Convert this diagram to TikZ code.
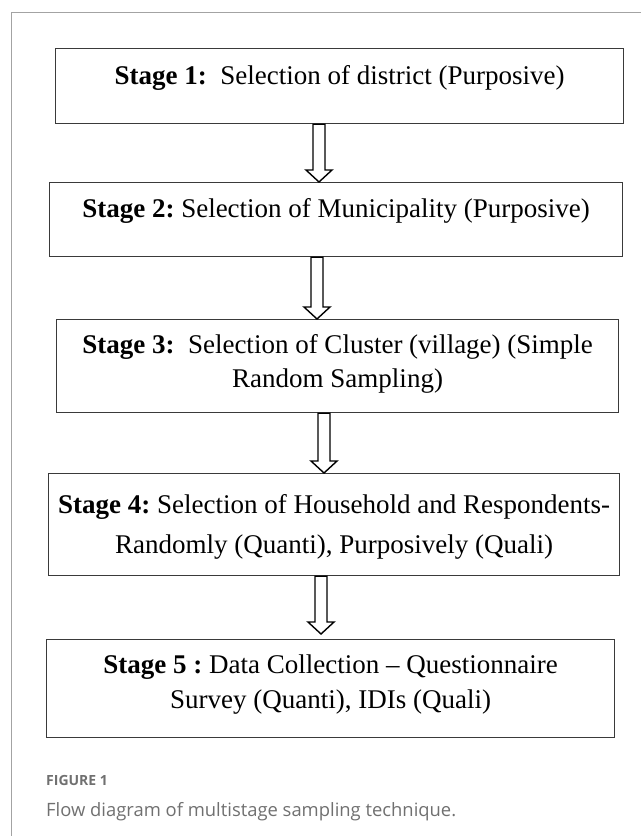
\documentclass[tikz,border=0pt]{standalone}
\usepackage{fontspec}
\setmainfont{Liberation Serif}
\newfontfamily\capfont{Open Sans}
\usepackage{tikz}
\usepackage{xcolor}
\usetikzlibrary{calc}
\definecolor{framegray}{HTML}{A3A3A3}
\definecolor{boxgray}{HTML}{3A3A3A}
\definecolor{capgray}{HTML}{707070}
\newcommand{\stagelines}[1]{\begin{tabular}[t]{@{}c@{}}#1\end{tabular}}
\frenchspacing

\begin{document}
\begin{tikzpicture}[x=1pt,y=-1pt,
    stagebox/.style={draw=boxgray, line width=1.2pt, anchor=north west, inner sep=0pt, font=\fontsize{27}{34}\selectfont},
    blockarrow/.style={draw=black, line width=1.4pt, fill=white, line join=miter},
    captitle/.style={anchor=base west, inner sep=0pt, text=capgray, font=\capfont\bfseries\fontsize{14}{16}\selectfont},
    captext/.style={anchor=base west, inner sep=0pt, text=capgray, font=\capfont\fontsize{18.4}{22}\selectfont}]
            \useasboundingbox (0,0) rectangle (641,836);
            \draw[framegray, line width=1pt] (641,12) -- (11,12) -- (11,836);
            \node[stagebox, minimum width=568pt, text height=35.5pt, text depth=39.5pt] (s1) at (55,48)
                {\stagelines{\textbf{Stage 1:}\ \ Selection of district (Purposive)}};
            \node[stagebox, minimum width=573pt, text height=35pt, text depth=39pt] (s2) at (49,182)
                {\stagelines{\textbf{Stage 2:} Selection of Municipality (Purposive)}};
            \node[stagebox, minimum width=562pt, text height=34pt, text depth=59pt] (s3) at (56,319)
                {\stagelines{\textbf{Stage 3:}\ \ Selection of Cluster (village) (Simple\\Random Sampling)}};
            \node[stagebox, minimum width=571pt, text height=40pt, text depth=62pt] (s4) at (48,473)
                {\stagelines{\textbf{Stage 4:} Selection of Household and Respondents-\\[6pt]Randomly (Quanti), Purposively (Quali)}};
            \node[stagebox, minimum width=568pt, text height=34pt, text depth=64pt] (s5) at (46,639)
                {\stagelines{\textbf{Stage 5 :} Data Collection -- Questionnaire\\[1pt]Survey (Quanti), IDIs (Quali)}};
            \foreach \a/\b/\x/\g in {s1/s2/319/0, s2/s3/317/0, s3/s4/324/0, s4/s5/321/5}
                \draw[blockarrow] ($(\x,0 |- \a.south)+(-6,0)$) -- ($(\x,0 |- \b.north)+(-6,-12-\g)$) -- ++(-7,0)
                    -- ($(\x,0 |- \b.north)+(0,-\g)$) -- ($(\x,0 |- \b.north)+(13,-12-\g)$) -- ++(-7,0)
                    -- ($(\x,0 |- \a.south)+(6,0)$) -- cycle;
            \node[captitle] (fignum) at (46,785) {FIGURE 1};
            \node[captext] (figcap) at (46,816) {Flow diagram of multistage sampling technique.};
        \end{tikzpicture}
\end{document}
